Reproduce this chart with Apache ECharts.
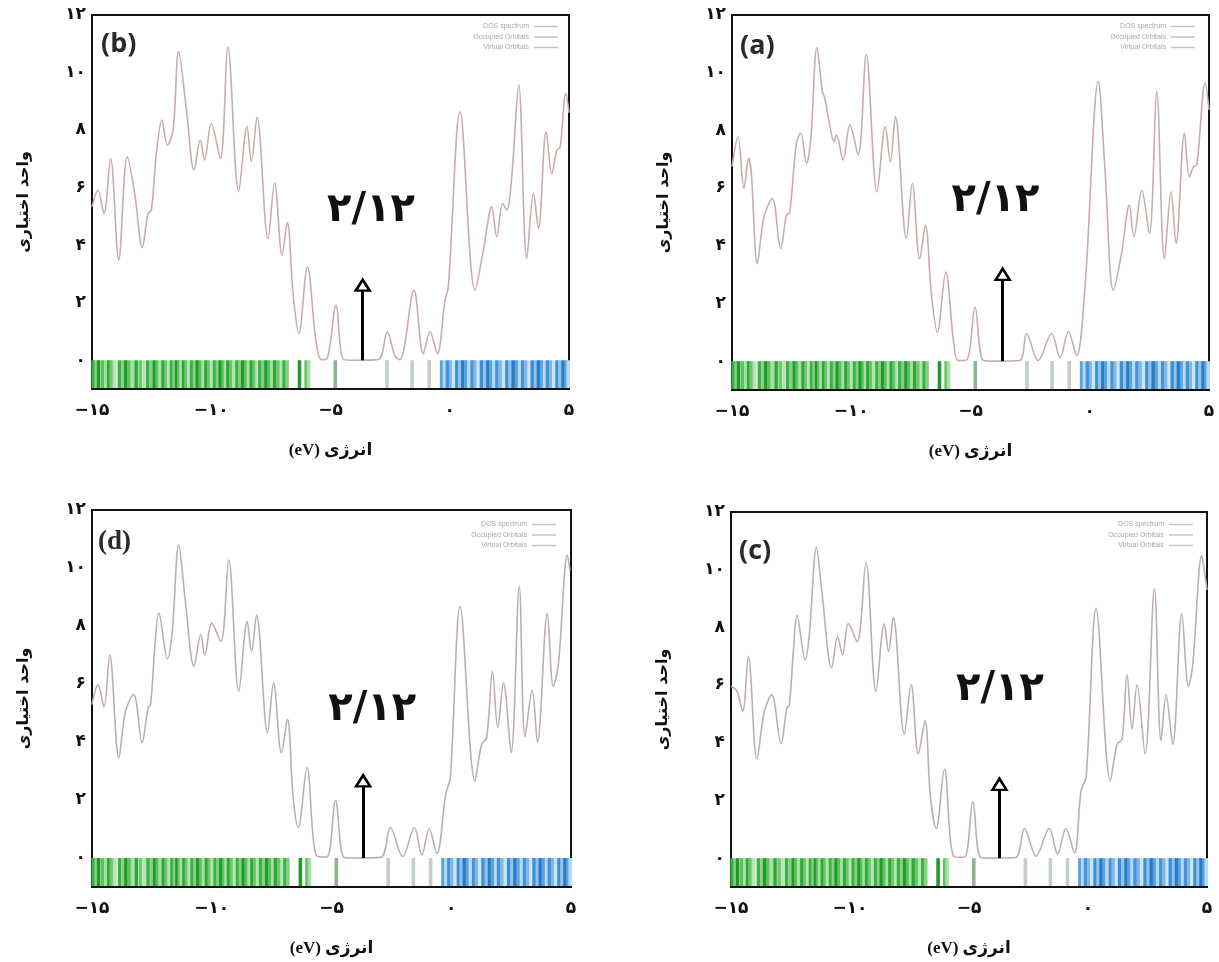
<!DOCTYPE html>
<html>
<head>
<meta charset="utf-8">
<script src="https://cdn.jsdelivr.net/npm/echarts@6/dist/echarts.min.js"></script>
<style>html,body{margin:0;padding:0;background:#fff}#chart{width:1219px;height:962px}</style>
</head>
<body>
<div id="chart"></div>
<script>
// ---------- data ----------
const xTicks = [-15, -10, -5, 0, 5];
const yTicks = [0, 2, 4, 6, 8, 10, 12];
const panelLetters = ['(b)', '(a)', '(d)', '(c)'];
const gapLabel = '۲/۱۲';
const legendNames = ['DOS spectrum', 'Occupied Orbitals', 'Virtual Orbitals'];

// panel (b)
const energyB = [-15,-14.75,-14.5,-14.22,-13.88,-13.52,-13.21,-12.89,-12.65,-12.51,-12.3,-12.07,-11.84,-11.6,-11.37,-11.04,-10.72,-10.46,-10.28,-10.0,-9.62,-9.3,-8.85,-8.5,-8.32,-8.08,-7.62,-7.34,-7.03,-6.81,-6.57,-6.33,-5.97,-5.6,-5.38,-5.15,-4.77,-4.45,-4.0,-3.0,-2.62,-2.3,-2.09,-1.5,-1.11,-0.83,-0.52,-0.2,-0.06,0.43,1.06,1.41,1.76,1.97,2.22,2.39,2.6,2.89,3.23,3.51,3.72,4.04,4.28,4.49,4.63,4.87,5.0];
const dosB = [5.33,5.91,5.10,7.01,3.48,7.07,5.80,3.92,5.10,5.22,7.19,8.35,7.48,8.0,10.72,8.70,6.61,7.65,6.96,8.23,7.01,10.88,5.86,8.12,6.90,8.44,4.23,6.18,3.65,4.79,2.32,0.93,3.25,0.6,0.02,0.05,1.91,0.02,0,0.02,0.99,0.15,0.02,2.43,0.23,0.99,0.23,2.09,2.55,8.64,2.43,3.82,5.33,4.29,5.45,5.22,6.38,9.57,3.54,5.80,4.58,7.94,6.49,7.30,7.42,9.28,8.6];
// panel (a)
const energyA = [-15,-14.75,-14.5,-14.3,-14.19,-13.94,-13.66,-13.31,-12.96,-12.72,-12.58,-12.3,-12.12,-11.88,-11.7,-11.44,-11.21,-11.11,-10.95,-10.72,-10.62,-10.34,-10.06,-9.71,-9.37,-8.92,-8.57,-8.36,-8.15,-7.69,-7.44,-7.13,-6.89,-6.64,-6.39,-6.04,-5.7,-5.52,-5.15,-4.81,-4.46,-4.0,-2.95,-2.65,-2.16,-1.6,-1.24,-0.9,-0.55,-0.2,0.36,0.64,0.99,1.33,1.66,1.85,2.18,2.5,2.81,3.13,3.41,3.62,3.97,4.18,4.35,4.49,4.84,5.0];
const dosA = [6.74,7.78,5.99,7.03,6.52,3.38,5.0,5.64,3.90,5.05,5.17,7.55,7.90,6.86,7.67,10.86,9.35,9.12,8.4,7.61,7.84,6.97,8.19,7.15,10.63,5.87,8.13,6.91,8.48,4.25,6.16,3.55,4.71,2.33,1.0,3.09,0.6,0.02,0.05,1.87,0.02,0,0.02,0.95,0.02,0.95,0.12,1.02,0.2,2.57,9.70,6.62,2.45,3.72,5.41,4.31,5.93,4.43,9.35,3.55,5.87,4.08,7.90,6.39,6.74,6.8,9.64,8.71];
// panel (d)
const energyD = [-15,-14.75,-14.5,-14.26,-13.88,-13.6,-13.26,-12.91,-12.66,-12.55,-12.38,-12.21,-11.85,-11.65,-11.38,-11.1,-10.74,-10.46,-10.29,-10.0,-9.62,-9.29,-8.87,-8.52,-8.34,-8.13,-7.67,-7.42,-7.09,-6.84,-6.6,-6.39,-6.02,-5.63,-5.2,-4.83,-4.47,-4.0,-2.95,-2.54,-2.03,-1.54,-1.23,-0.92,-0.6,-0.23,-0.04,0.37,0.99,1.27,1.48,1.72,1.94,2.18,2.5,2.84,3.08,3.38,3.6,4.01,4.26,4.47,4.85,4.96];
const dosD = [5.29,5.98,5.21,7.01,3.46,5.06,5.64,3.98,5.16,5.3,7.24,8.44,6.87,7.81,10.79,8.84,6.61,7.70,7.0,8.1,7.47,10.27,5.75,8.16,7.12,8.38,4.32,6.04,3.63,4.78,2.08,1.05,3.12,0.08,0.03,1.97,0.02,0,0.02,1.05,0.05,1.05,0.11,1.0,0.16,2.2,2.77,8.67,2.66,3.92,4.15,6.44,4.49,6.04,3.63,9.36,4.18,5.78,4.0,8.44,5.92,6.66,10.45,9.9];
// panel (c)
const energyC = [-15,-14.75,-14.51,-14.27,-13.91,-13.6,-13.29,-12.9,-12.65,-12.55,-12.37,-12.23,-11.88,-11.71,-11.41,-11.18,-10.77,-10.52,-10.31,-10.07,-9.70,-9.33,-8.91,-8.56,-8.38,-8.18,-7.72,-7.43,-7.13,-6.85,-6.62,-6.38,-6.03,-5.64,-5.2,-4.84,-4.5,-4.0,-3.05,-2.67,-2.18,-1.63,-1.28,-0.93,-0.57,-0.29,-0.08,0.34,0.94,1.22,1.43,1.64,1.85,2.06,2.40,2.79,3.07,3.28,3.56,3.94,4.22,4.40,4.78,4.92,5.0];
const dosC = [5.96,5.79,5.09,6.99,3.44,5.09,5.66,3.98,5.2,5.3,7.28,8.42,6.87,7.73,10.77,9.22,6.59,7.67,7.04,8.13,7.50,10.25,5.78,8.13,7.16,8.36,4.30,6.01,3.61,4.76,2.12,1.03,3.09,0.06,0.03,1.95,0.02,0,0.02,1.03,0.07,1.03,0.15,1.03,0.19,2.35,2.8,8.65,2.69,3.95,4.12,6.36,4.48,6.01,3.61,9.34,4.07,5.66,3.95,8.48,5.96,6.7,10.48,9.79,9.3];

// orbital energies (stick spectrum under the curve)
const occupiedOrbitals = [-14.95,-14.82,-14.72,-14.55,-14.42,-14.3,-14.2,-14.05,-13.85,-13.7,-13.58,-13.45,-13.3,-13.15,-12.98,-12.82,-12.66,-12.5,-12.38,-12.27,-12.15,-12.02,-11.9,-11.78,-11.66,-11.55,-11.45,-11.36,-11.27,-11.16,-11.05,-10.94,-10.82,-10.7,-10.58,-10.46,-10.34,-10.22,-10.1,-9.98,-9.86,-9.74,-9.62,-9.5,-9.4,-9.3,-9.18,-9.05,-8.92,-8.8,-8.68,-8.56,-8.44,-8.32,-8.2,-8.08,-7.96,-7.82,-7.7,-7.58,-7.45,-7.34,-7.2,-7.06,-6.94,-6.82,-6.3,-6.02,-5.92,-4.8];
const virtualOrbitals = [-2.63,-1.58,-0.86,-0.34,-0.22,-0.1,0.04,0.16,0.3,0.42,0.55,0.68,0.8,0.94,1.06,1.2,1.33,1.47,1.6,1.72,1.86,1.98,2.12,2.26,2.4,2.53,2.66,2.8,2.93,3.06,3.2,3.33,3.46,3.6,3.72,3.85,3.98,4.1,4.24,4.37,4.5,4.62,4.75,4.88,4.97];

// gap arrow per panel: [energy, tip height], label position [energy, height]
const arrowB = [-3.65, 2.8], labelB = [-3.3, 5.2];
const arrowA = [-3.65, 3.2], labelA = [-3.95, 5.55];
const arrowD = [-3.68, 2.85], labelD = [-3.3, 5.1];
const arrowC = [-3.72, 2.75], labelC = [-3.7, 5.85];

// ---------- chart ----------
const fa = v => {
  const s = String(Math.abs(v)).replace(/\d/g, d => '۰۱۲۳۴۵۶۷۸۹'[+d]);
  return v < 0 ? '\u2212' + s : s;
};
const zip = (xs, ys) => xs.map((x, i) => [x, ys[i]]);

const greens = ['#3cb043','#86d086','#1f9b28','#5cc35c','#a9dfa9','#2fa936','#6cc66c','#b8e2b8'];
const blues = ['#3b8fd6','#8fc3ec','#2a7bc4','#5aa3df','#b9daf3','#4792d8','#7fb7e6','#cfe5f6'];
function stickData(list, palette, muted) {
  return list.map((e, i) => {
    const isolated = list.every((o, j) => j === i || Math.abs(o - e) > 0.3);
    return { value: [e, -1], itemStyle: { color: isolated ? muted : palette[i % palette.length] } };
  });
}
function renderStick(params, api) {
  const top = api.coord([api.value(0), 0]);
  const bot = api.coord([api.value(0), -1]);
  return { type: 'rect', shape: { x: top[0] - 1.8, y: top[1], width: 3.6, height: bot[1] - top[1] - 1 },
           style: { fill: api.visual('color') } };
}

const panels = [
  { grid: { left: 92, top: 15, width: 477, height: 374 }, e: energyB, d: dosB, arrow: arrowB, label: labelB,
    color: '#c8adad', letter: { left: 96, top: 26, font: 'Open Sans' }, legend: { right: 656, top: 18 } },
  { grid: { left: 732, top: 15, width: 477, height: 375 }, e: energyA, d: dosA, arrow: arrowA, label: labelA,
    color: '#c8adad', letter: { left: 735, top: 28, font: 'Open Sans' }, legend: { right: 19, top: 18 } },
  { grid: { left: 92, top: 510, width: 479, height: 377 }, e: energyD, d: dosD, arrow: arrowD, label: labelD,
    color: '#bdafaf', letter: { left: 93, top: 524, font: 'Liberation Serif' }, legend: { right: 658, top: 516 } },
  { grid: { left: 731, top: 512, width: 476, height: 375 }, e: energyC, d: dosC, arrow: arrowC, label: labelC,
    color: '#bdafaf', letter: { left: 734, top: 533, font: 'Open Sans' }, legend: { right: 21, top: 516 } }
];

const faFont = '"DejaVu Sans", "Noto Sans", sans-serif';
const option = { animation: false, backgroundColor: '#fff', grid: [], xAxis: [], yAxis: [], series: [], title: [], legend: [] };

panels.forEach((p, i) => {
  option.grid.push(Object.assign({ show: true, borderColor: '#111', borderWidth: 2, backgroundColor: '#fff' }, p.grid));
  option.xAxis.push({
    gridIndex: i, type: 'value', min: xTicks[0], max: xTicks[xTicks.length - 1], interval: 5,
    axisLine: { show: false }, axisTick: { show: false }, splitLine: { show: false },
    axisLabel: { formatter: v => fa(v), fontSize: 17, fontWeight: 'bold', color: '#111', margin: 13, fontFamily: faFont },
    name: '(eV) انرژی', nameLocation: 'middle', nameGap: 53,
    nameTextStyle: { fontSize: 17, fontWeight: 'bold', color: '#111', fontFamily: '"Liberation Serif", "DejaVu Sans", serif' }
  });
  option.yAxis.push({
    gridIndex: i, type: 'value', min: -1, max: yTicks[yTicks.length - 1], interval: 1,
    axisLine: { show: false }, axisTick: { show: false }, splitLine: { show: false },
    axisLabel: { formatter: v => (yTicks.indexOf(v) >= 0 ? fa(v) : ''), fontSize: 17, fontWeight: 'bold', color: '#111', margin: 6, fontFamily: faFont },
    name: 'واحد اختیاری', nameLocation: 'middle', nameGap: 60, nameRotate: 90,
    nameTextStyle: { fontSize: 16, fontWeight: 'bold', color: '#111', fontFamily: faFont }
  });
  option.title.push({
    text: panelLetters[i], left: p.letter.left, top: p.letter.top,
    textStyle: { fontSize: 27, fontWeight: 'bold', color: '#2a2a2a', fontFamily: p.letter.font }
  });
  option.legend.push({
    orient: 'vertical', align: 'right', right: p.legend.right, top: p.legend.top,
    itemWidth: 24, itemHeight: 1.5, itemGap: 3.5, selectedMode: false,
    textStyle: { fontSize: 7, color: '#a8a8a8', padding: [0, 0, 0, 0] },
    data: legendNames.map(n => ({ name: n, icon: 'rect', itemStyle: { color: '#c4c4c4' } }))
  });
  const [ax, ay] = p.arrow;
  option.series.push({
    name: legendNames[0], type: 'line', xAxisIndex: i, yAxisIndex: i, data: zip(p.e, p.d),
    smooth: 0.35, showSymbol: false, z: 3, clip: true,
    lineStyle: { color: p.color, width: 1.6 }, itemStyle: { color: p.color },
    markLine: {
      silent: true, symbol: ['none', 'none'], z: 6,
      lineStyle: { color: '#000', width: 3, type: 'solid' }, label: { show: false },
      data: [[{ coord: [ax, 0] }, { coord: [ax, ay - 0.3] }]]
    },
    markPoint: {
      silent: true, z: 7,
      data: [
        { coord: [ax, ay], symbol: 'triangle', symbolSize: [14, 11], symbolOffset: [0, '50%'],
          itemStyle: { color: '#fff', borderColor: '#000', borderWidth: 2.5 }, label: { show: false } },
        { coord: p.label, symbol: 'rect', symbolSize: 1, itemStyle: { color: 'rgba(0,0,0,0)' },
          label: { show: true, position: 'inside', formatter: gapLabel, fontSize: 40, fontWeight: 900, color: '#111', fontFamily: faFont } }
      ]
    }
  });
  option.series.push({
    name: legendNames[1], type: 'custom', xAxisIndex: i, yAxisIndex: i, z: 2,
    encode: { x: 0, y: 1 }, renderItem: renderStick,
    itemStyle: { color: greens[0] },
    data: stickData(occupiedOrbitals, greens, '#8fb58f')
  });
  option.series.push({
    name: legendNames[2], type: 'custom', xAxisIndex: i, yAxisIndex: i, z: 2,
    encode: { x: 0, y: 1 }, renderItem: renderStick,
    itemStyle: { color: blues[0] },
    data: stickData(virtualOrbitals, blues, '#c3cccf')
  });
});

const chart = echarts.init(document.getElementById('chart'), null, { renderer: 'canvas' });
chart.setOption(option);
</script>
</body>
</html>
